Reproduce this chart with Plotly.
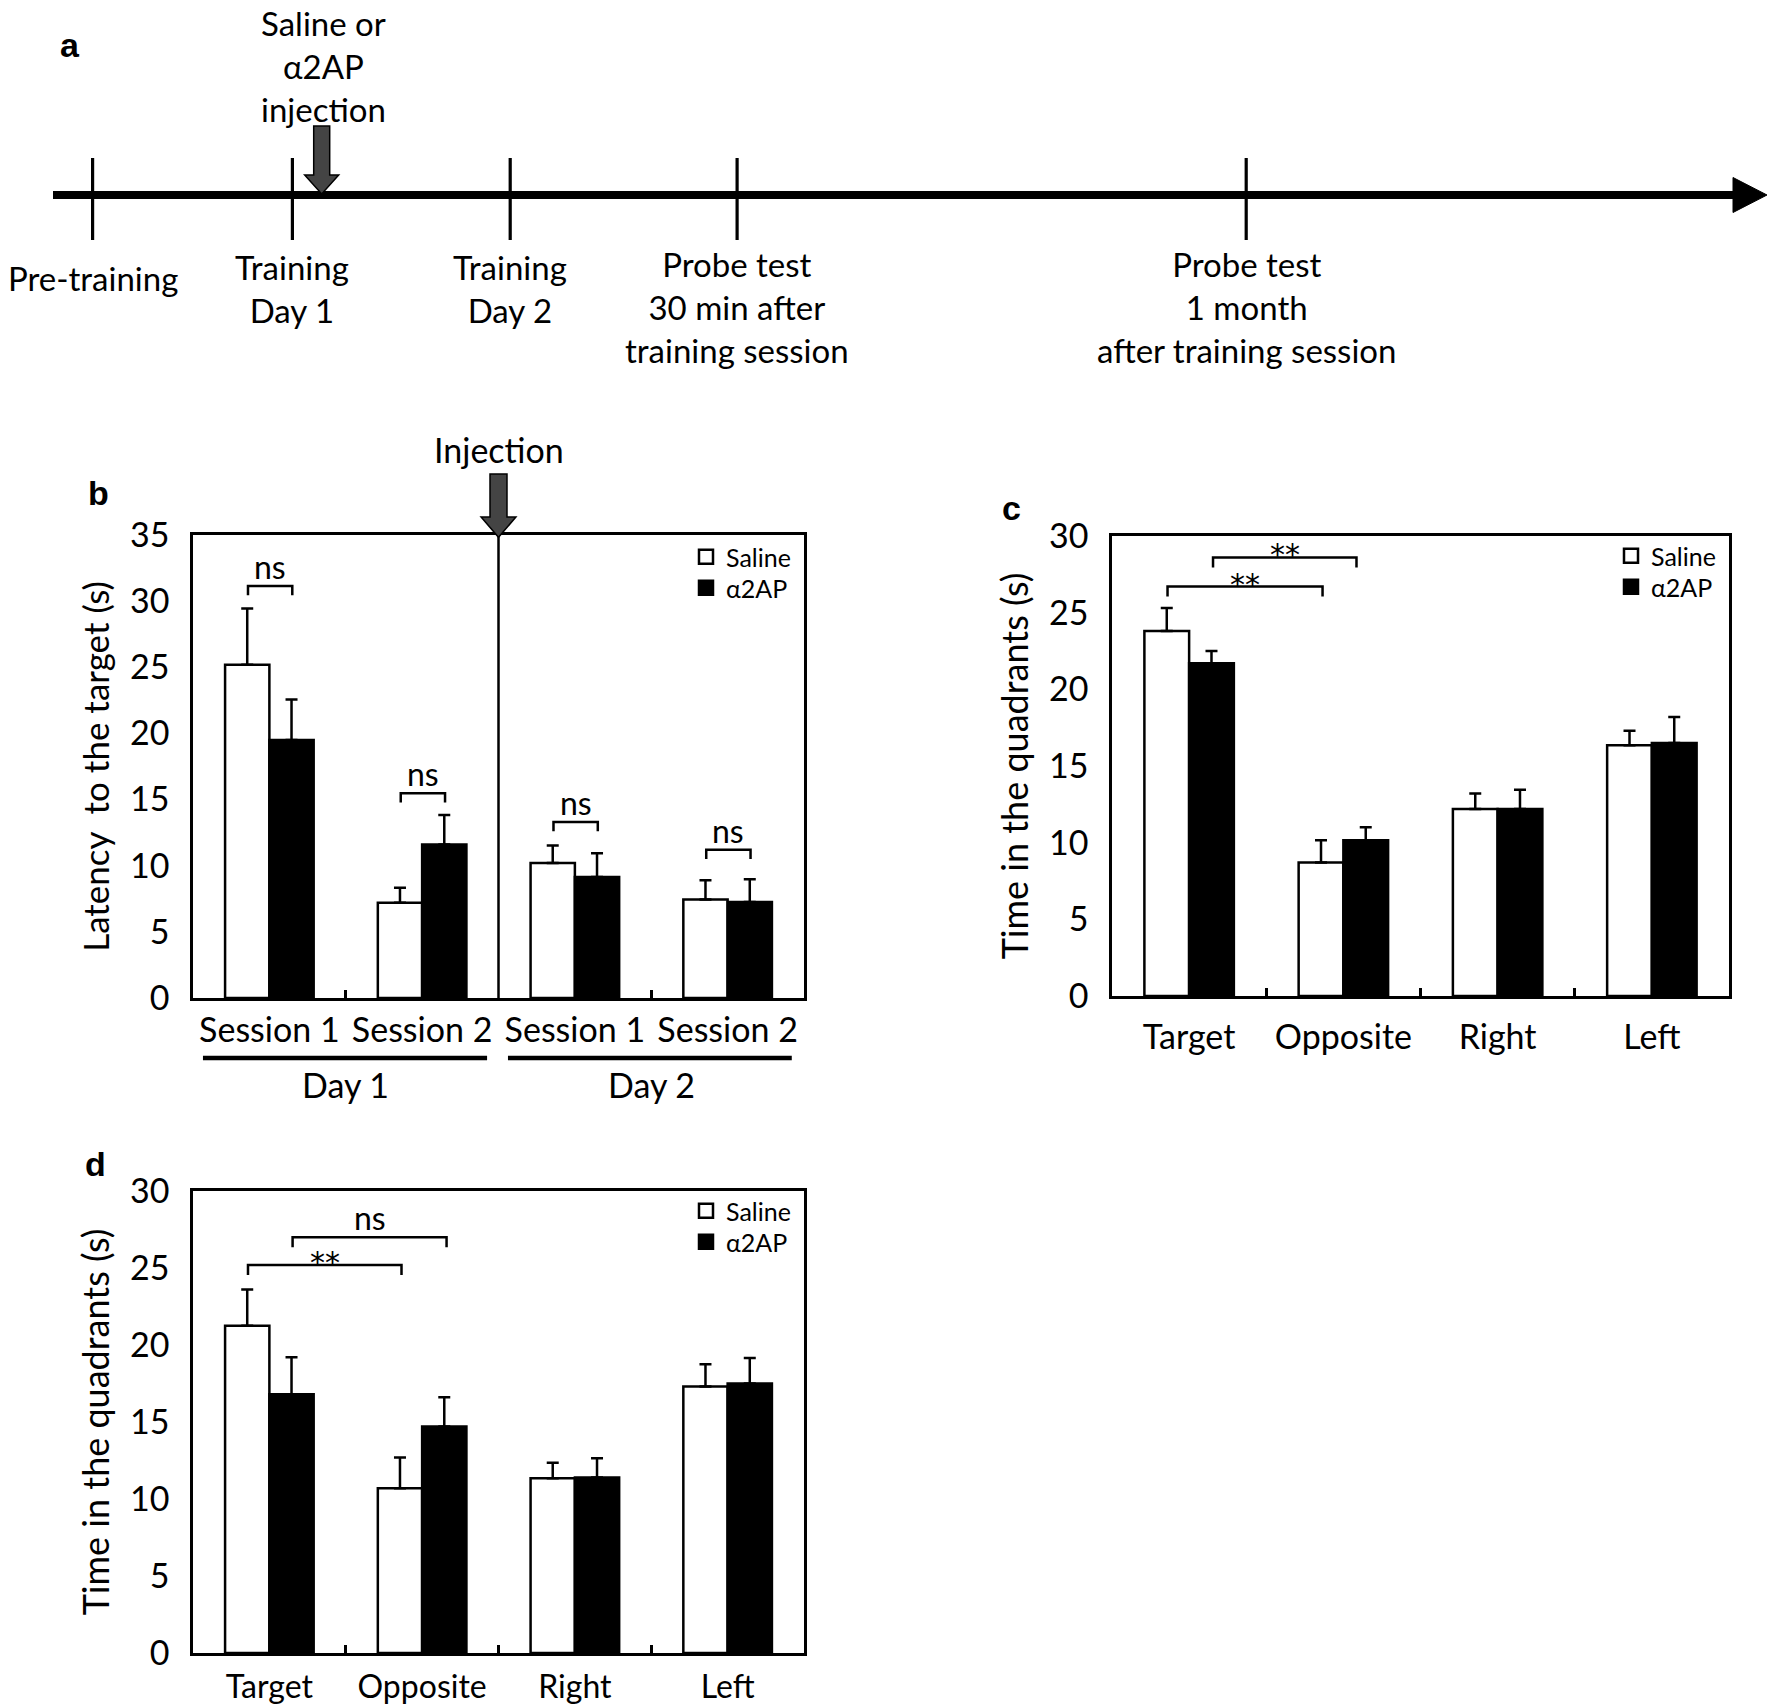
import plotly.graph_objects as go

W, H = 1770, 1708

# ---------------- data ----------------
# Panel a : timeline (arbitrary timeline units)
timeline_pos = [9.26, 29.24, 51.02, 73.71, 124.62]
timeline_labels = [["Pre-training"], ["Training", "Day 1"], ["Training", "Day 2"],
                   ["Probe test", "30 min after", "training session"],
                   ["Probe test", "1 month", "after training session"]]
injection_pos = 32.17
injection_label = ["Saline or", "α2AP", "injection"]

# Panel b : latency to the target
b_categories = ["Session 1", "Session 2", "Session 1", "Session 2"]
b_days = ["Day 1", "Day 2"]
b_saline = [25.2, 7.2, 10.2, 7.45]
b_saline_sem = [4.25, 1.13, 1.32, 1.46]
b_a2ap = [19.5, 11.6, 9.15, 7.25]
b_a2ap_sem = [3.06, 2.24, 1.79, 1.73]
b_br_x0 = [-0.14, 0.86, 1.86, 2.86]
b_br_x1 = [0.15, 1.15, 2.15, 3.15]
b_br_y = [31.15, 15.47, 13.3, 11.2]
b_br_text = ["ns", "ns", "ns", "ns"]

# Panel c : probe test 30 min after training
quadrants = ["Target", "Opposite", "Right", "Left"]
c_saline = [23.8, 8.7, 12.2, 16.35]
c_saline_sem = [1.5, 1.45, 1.0, 0.95]
c_a2ap = [21.7, 10.15, 12.2, 16.5]
c_a2ap_sem = [0.8, 0.85, 1.25, 1.7]
c_br_x0 = [-0.14, 0.155]
c_br_x1 = [0.865, 1.085]
c_br_y = [26.7, 28.6]
c_br_text = ["**", "**"]

# Panel d : probe test 1 month after training
d_saline = [21.25, 10.7, 11.35, 17.3]
d_saline_sem = [2.35, 2.0, 1.0, 1.45]
d_a2ap = [16.8, 14.7, 11.4, 17.5]
d_a2ap_sem = [2.4, 1.9, 1.25, 1.65]
d_br_x0 = [-0.14, 0.152]
d_br_x1 = [0.865, 1.16]
d_br_y = [25.19, 27.0]
d_br_text = ["**", "ns"]

FONT = "Lato"
LETTER_FONT = "Liberation Sans"


def px_x(p):
    return p / W


def px_y(p):
    return 1 - p / H


fig = go.Figure()

# ---------------- bar panels ----------------
panels = [
    dict(xa="x", ya="y", legs=("legend", "legend2"), leg_rows=(557, 588), cats=b_categories,
         sal=b_saline, sal_e=b_saline_sem, a2=b_a2ap, a2_e=b_a2ap_sem,
         bx0=b_br_x0, bx1=b_br_x1, by=b_br_y, bt=b_br_text, ymax=35, drop=0.7),
    dict(xa="x2", ya="y2", legs=("legend3", "legend4"), leg_rows=(556, 587), cats=quadrants,
         sal=c_saline, sal_e=c_saline_sem, a2=c_a2ap, a2_e=c_a2ap_sem,
         bx0=c_br_x0, bx1=c_br_x1, by=c_br_y, bt=c_br_text, ymax=30, drop=0.65),
    dict(xa="x3", ya="y3", legs=("legend5", "legend6"), leg_rows=(1211, 1242), cats=quadrants,
         sal=d_saline, sal_e=d_saline_sem, a2=d_a2ap, a2_e=d_a2ap_sem,
         bx0=d_br_x0, bx1=d_br_x1, by=d_br_y, bt=d_br_text, ymax=30, drop=0.65),
]

annotations = []
shapes = []

for p in panels:
    xs = list(range(len(p["cats"])))
    for name, vals, errs, col, leg in [("Saline", p["sal"], p["sal_e"], "white", p["legs"][0]),
                                       ("α2AP", p["a2"], p["a2_e"], "black", p["legs"][1])]:
        fig.add_trace(go.Bar(
            x=xs, y=vals, name=name, xaxis=p["xa"], yaxis=p["ya"], showlegend=False,
            offsetgroup=name,
            marker=dict(color=col, line=dict(color="black", width=2.5)),
            error_y=dict(type="data", symmetric=False, array=errs, arrayminus=[0] * len(errs),
                         color="black", thickness=2.5, width=6),
        ))
        # legend key (square swatch)
        fig.add_trace(go.Scatter(
            x=[None], y=[None], mode="markers", name=name, xaxis=p["xa"], yaxis=p["ya"],
            legend=leg, showlegend=True, hoverinfo="skip",
            marker=dict(symbol="square", size=14, color=col, line=dict(color="black", width=2.5))))
    for x0, x1, yb, txt in zip(p["bx0"], p["bx1"], p["by"], p["bt"]):
        fig.add_trace(go.Scatter(
            x=[x0, x0, x1, x1], y=[yb - p["drop"], yb, yb, yb - p["drop"]],
            mode="lines", line=dict(color="black", width=2.5), showlegend=False,
            xaxis=p["xa"], yaxis=p["ya"], hoverinfo="skip"))
        if txt == "**":
            annotations.append(dict(
                x=(x0 + x1) / 2, y=yb, xref=p["xa"], yref=p["ya"], text=txt, showarrow=False,
                xanchor="center", yanchor="bottom", yshift=-17,
                font=dict(family="DejaVu Sans", size=30, color="black")))
        else:
            annotations.append(dict(
                x=(x0 + x1) / 2, y=yb, xref=p["xa"], yref=p["ya"], text=txt, showarrow=False,
                xanchor="center", yanchor="bottom", yshift=-2,
                font=dict(family=FONT, size=32, color="black")))

# ---------------- panel a : timeline ----------------
tick_x, tick_y = [], []
for tp in timeline_pos:
    tick_x += [tp, tp, None]
    tick_y += [3.7, -4.5, None]
fig.add_trace(go.Scatter(x=tick_x, y=tick_y, mode="lines", xaxis="x4", yaxis="y4",
                         line=dict(color="black", width=3.2), showlegend=False, hoverinfo="skip"))
shapes.append(dict(type="line", xref="x4", yref="y4", x0=5.3, x1=173.8, y0=0, y1=0,
                   line=dict(color="black", width=8)))
shapes.append(dict(type="path", xref="x4", yref="y4",
                   path="M 173.3,1.75 L 176.7,0 L 173.3,-1.75 Z",
                   fillcolor="black", line=dict(color="black", width=1)))
ix = injection_pos
shapes.append(dict(type="path", xref="x4", yref="y4",
                   path=(f"M {ix-0.8},6.9 L {ix+0.8},6.9 L {ix+0.8},2.0 L {ix+1.7},2.0 "
                         f"L {ix},0.1 L {ix-1.7},2.0 L {ix-0.8},2.0 Z"),
                   fillcolor="#444444", line=dict(color="black", width=1.5)))
label_mid = {1: -8.3, 2: -9.3, 3: -11.2}
for tp, lines in zip(timeline_pos, timeline_labels):
    annotations.append(dict(x=tp, y=label_mid[len(lines)], xref="x4", yref="y4",
                            text="<br>".join(lines), showarrow=False, xanchor="center",
                            yanchor="middle", font=dict(family=FONT, size=33, color="black")))
annotations.append(dict(x=ix + 0.2, y=19.4, xref="x4", yref="y4",
                        text="<br>".join(injection_label), showarrow=False, xanchor="center",
                        yanchor="top", font=dict(family=FONT, size=33, color="black")))

# ---------------- panel b extras ----------------
shapes.append(dict(type="line", xref="x", yref="y domain", x0=1.5, x1=1.5, y0=0, y1=1,
                   line=dict(color="black", width=2.5)))
shapes.append(dict(type="path", xref="x domain", yref="y domain",
                   path=("M 0.4861,1.1317 L 0.5139,1.1317 L 0.5139,1.0389 L 0.5285,1.0389 "
                         "L 0.5,0.995 L 0.4715,1.0389 L 0.4861,1.0389 Z"),
                   fillcolor="#444444", line=dict(color="black", width=1.5)))
annotations.append(dict(x=0.5, y=1.1836, xref="x domain", yref="y domain", text="Injection",
                        showarrow=False, xanchor="center", yanchor="middle",
                        font=dict(family=FONT, size=34, color="black")))
for (a0, a1), dname, cx in zip([(0.0163, 0.4813), (0.5155, 0.98)], b_days, [0.25, 0.75]):
    shapes.append(dict(type="line", xref="x domain", yref="paper", x0=a0, x1=a1,
                       y0=px_y(1058), y1=px_y(1058), line=dict(color="black", width=4.5)))
    annotations.append(dict(x=cx, y=px_y(1084), xref="x domain", yref="paper", text=dname,
                            showarrow=False, xanchor="center", yanchor="middle",
                            font=dict(family=FONT, size=34, color="black")))

# panel letters
for letter, lx, ly in [("a", 70, 45), ("b", 98, 493), ("c", 1011, 508), ("d", 95, 1164)]:
    annotations.append(dict(x=px_x(lx), y=px_y(ly), xref="paper", yref="paper", text=letter,
                            showarrow=False, xanchor="center", yanchor="middle",
                            font=dict(family=LETTER_FONT, size=34, color="black", weight="bold")))


def yaxis(domain, ymax, title, xa, tsize, standoff):
    return dict(domain=domain, range=[0, ymax], anchor=xa, tickmode="array",
                tickvals=list(range(0, ymax + 1, 5)), showline=True, linecolor="black",
                linewidth=2.5, mirror=True, ticks="", showgrid=False, zeroline=False,
                tickfont=dict(family=FONT, size=34, color="black"), ticklabelstandoff=14,
                title=dict(text=title, font=dict(family=FONT, size=tsize, color="black"),
                           standoff=standoff),
                fixedrange=True)


def xaxis(domain, cats, ya, minor_vals, standoff, fsize):
    return dict(domain=domain, range=[-0.5, len(cats) - 0.5], anchor=ya, tickmode="array",
                tickvals=list(range(len(cats))), ticktext=cats, showline=True, linecolor="black",
                linewidth=2.5, mirror=True, ticks="", showgrid=False, zeroline=False,
                tickfont=dict(family=FONT, size=fsize, color="black"), ticklabelstandoff=standoff,
                minor=dict(tickmode="array", tickvals=minor_vals, ticks="inside", ticklen=8,
                           tickwidth=2.5, tickcolor="black", showgrid=False),
                fixedrange=True)


def legend_at(xpx, ypx):
    return dict(x=px_x(xpx), y=px_y(ypx), xanchor="left", yanchor="middle",
                bgcolor="rgba(0,0,0,0)", borderwidth=0,
                font=dict(family=FONT, size=25, color="black"))


bx = [px_x(193), px_x(804)]
cx_ = [px_x(1112), px_x(1729)]
layout_legends = {}
for p in panels:
    lx = 686 if p["xa"] != "x2" else 1611
    for leg, row in zip(p["legs"], p["leg_rows"]):
        layout_legends[leg] = legend_at(lx, row)

fig.update_layout(
    width=W, height=H, autosize=False,
    margin=dict(l=0, r=0, t=0, b=0, pad=0, autoexpand=False),
    paper_bgcolor="white", plot_bgcolor="white",
    font=dict(family=FONT, color="black"),
    barmode="group", bargap=0.42, bargroupgap=0,
    xaxis=xaxis(bx, b_categories, "y", [0.5, 2.5], 0, 34),
    yaxis=yaxis([px_y(998), px_y(535)], 35, "Latency  to the target (s)", "x", 35, 10),
    xaxis2=xaxis(cx_, quadrants, "y2", [0.5, 1.5, 2.5], 9, 34),
    yaxis2=yaxis([px_y(996), px_y(536)], 30, "Time in the quadrants (s)", "x2", 36, 10),
    xaxis3=xaxis(bx, quadrants, "y3", [0.5, 1.5, 2.5], 4, 32),
    yaxis3=yaxis([px_y(1653), px_y(1191)], 30, "Time in the quadrants (s)", "x3", 36, 10),
    xaxis4=dict(domain=[0, 1], range=[0, 177], anchor="y4", visible=False, fixedrange=True),
    yaxis4=dict(domain=[px_y(360), 1], range=[-16.5, 19.5], anchor="x4", visible=False,
                fixedrange=True),
    annotations=annotations, shapes=shapes,
    **layout_legends,
)

fig.write_html("out.html", config={"displayModeBar": False},
               post_script="document.body.style.margin='0px';")
